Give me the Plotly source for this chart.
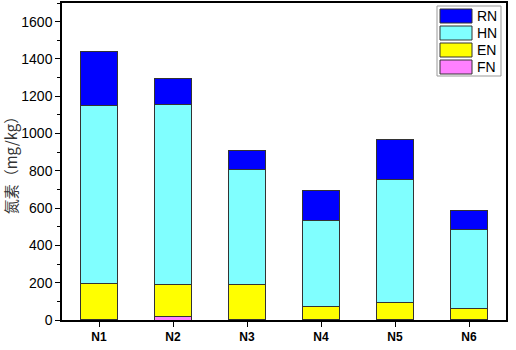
import plotly.graph_objects as go

categories = ["N1", "N2", "N3", "N4", "N5", "N6"]
FN = [5, 20, 3, 2, 5, 2]
EN = [192, 171, 190, 68, 90, 61]
HN = [952, 966, 615, 461, 656, 425]
RN = [290, 137, 100, 161, 219, 100]

series = [("FN", FN, "#FF80FF"), ("EN", EN, "#FFFF00"), ("HN", HN, "#80FFFF"), ("RN", RN, "#0000FF")]

W, H = 516, 350
ML, MR, MT, MB = 62, 10, 3, 30

fig = go.Figure()
for name, vals, color in series:
    fig.add_trace(go.Bar(
        x=categories, y=vals, name=name, width=0.5,
        marker=dict(color=color, line=dict(color="#333333", width=1)),
        showlegend=False,
    ))

# custom legend (pixel positions converted to paper coordinates)
def px(x):
    return (x - ML) / (W - ML - MR)

def py(y):
    return (H - MB - y) / (H - MT - MB)

shapes = [dict(type="rect", xref="paper", yref="paper", x0=px(437), x1=px(501), y0=py(76), y1=py(6),
               line=dict(color="#999999", width=1), fillcolor="white", layer="above")]
annotations = []
for i, (name, vals, color) in enumerate(reversed(series)):
    top = 8 + i * 17
    shapes.append(dict(type="rect", xref="paper", yref="paper", x0=px(440), x1=px(472),
                       y0=py(top + 15), y1=py(top + 1),
                       line=dict(color="#333333", width=1), fillcolor=color, layer="above"))
    annotations.append(dict(xref="paper", yref="paper", x=px(475), y=py(top + 8), text=name,
                            showarrow=False, xanchor="left", yanchor="middle",
                            font=dict(size=14, color="black")))

fig.update_layout(
    barmode="stack",
    width=W, height=H,
    margin=dict(l=ML, r=MR, t=MT, b=MB, autoexpand=False),
    paper_bgcolor="white", plot_bgcolor="white",
    font=dict(family="Liberation Sans, Arial, sans-serif", color="black"),
    showlegend=False,
    shapes=shapes, annotations=annotations,
)
fig.update_xaxes(
    range=[-0.5, 5.5], showline=True, linecolor="black", linewidth=1.5, mirror=True,
    ticks="outside", ticklen=5, tickwidth=1.2, tickcolor="black",
    tickfont=dict(size=12, family="Liberation Sans, Arial, sans-serif"),
    tickprefix="<b>", ticksuffix="</b>",
    minor=dict(ticks="outside", ticklen=4, tickwidth=1.2, tickcolor="black", showgrid=False),
    showgrid=False, automargin=False,
)
fig.update_yaxes(
    range=[0, 1700], tick0=0, dtick=200, showline=True, linecolor="black", linewidth=1.5, mirror=True,
    ticks="outside", ticklen=5, tickwidth=1.2, tickcolor="black",
    tickfont=dict(size=14),
    minor=dict(dtick=100, ticks="outside", ticklen=3, tickwidth=1, tickcolor="black", showgrid=False),
    showgrid=False, zeroline=False, automargin=False,
    title=dict(text="氮素（mg/kg）", font=dict(size=15, color="#333333",
                                           family="Noto Sans CJK SC, Liberation Sans"), standoff=4),
)

fig.write_html("out.html", config={"displayModeBar": False},
               post_script="document.body.style.margin='0';")
